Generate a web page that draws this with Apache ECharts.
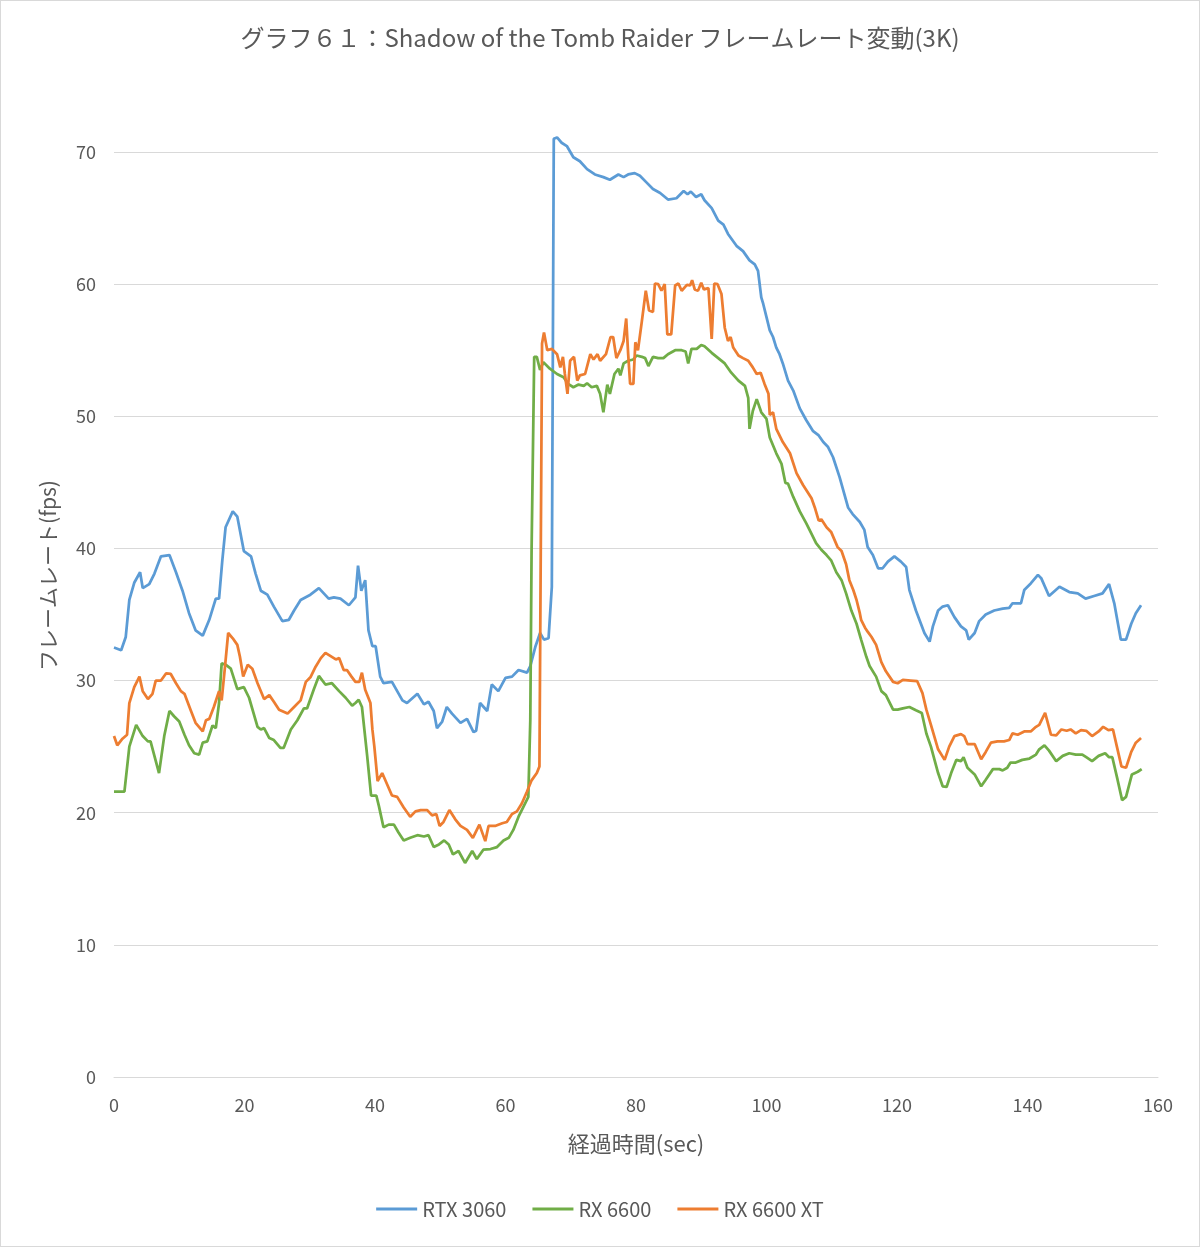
<!DOCTYPE html>
<html>
<head>
<meta charset="utf-8">
<script src="https://cdn.jsdelivr.net/npm/echarts@6/dist/echarts.min.js"></script>
<style>
html,body{margin:0;padding:0;background:#fff;}
#chart{width:1200px;height:1247px;box-sizing:border-box;border:1px solid #d9d9d9;}
</style>
</head>
<body>
<div id="chart"></div>
<script>
const titleText = 'グラフ６１：Shadow of the Tomb Raider フレームレート変動(3K)';
const xAxisName = '経過時間(sec)';
const yAxisName = 'フレームレート(fps)';
const seriesNames = ['RTX 3060', 'RX 6600', 'RX 6600 XT'];
const seriesColors = ['#5B9BD5', '#70AD47', '#ED7D31'];

const rtxTime = [0,1.1,1.8,2.35,3.1,4.0,4.4,5.4,6.2,7.2,8.5,9.5,10.5,11.5,12.5,13.6,14.6,15.6,16.1,16.6,17.1,18.2,18.9,19.9,21.0,21.7,22.5,23.5,24.5,25.8,26.8,27.6,28.6,30.1,31.4,32.9,33.7,34.7,36.0,37.0,37.4,37.9,38.5,39.0,39.6,40.1,40.8,41.3,42.6,44.2,44.9,46.5,47.5,48.2,49.0,49.5,50.3,51.0,51.8,53.1,54.1,55.1,55.5,56.1,57.2,57.9,58.9,60.0,61.0,62.0,63.3,63.8,64.6,65.3,65.9,66.6,67.1,67.4,67.9,68.6,69.4,70.4,71.4,72.5,73.7,75.0,76.0,77.3,78.1,78.8,79.8,80.6,81.6,82.6,83.7,84.9,86.2,87.3,87.9,88.4,89.2,90.0,90.5,91.6,92.6,93.4,94.1,95.4,96.4,97.4,98.2,98.7,99.2,99.5,100.0,100.5,101.0,101.5,102.0,102.5,103.3,104.1,105.1,106.1,107.1,108.0,108.7,109.4,110.2,111.2,112.5,113.2,114.3,115.0,115.5,116.3,117.1,117.8,118.6,119.6,120.6,121.4,121.9,122.9,124.2,125.0,125.5,126.3,127.0,127.8,128.8,129.8,130.6,131.0,131.9,132.6,133.6,134.9,136.2,137.2,137.7,139.0,139.5,140.5,141.6,142.1,143.3,144.9,146.4,147.7,148.9,150.2,151.5,152.5,153.3,154.3,155.1,155.9,156.6,157.4];
const rtxFps = [32.5,32.3,33.3,36.1,37.4,38.2,37.0,37.3,38.1,39.4,39.5,38.2,36.8,35.1,33.8,33.4,34.6,36.2,36.2,39.1,41.6,42.8,42.4,39.8,39.4,38.1,36.8,36.5,35.6,34.5,34.6,35.3,36.1,36.5,37.0,36.2,36.3,36.2,35.7,36.3,38.7,36.8,37.6,33.8,32.6,32.6,30.3,29.8,29.9,28.5,28.3,29.0,28.2,28.4,27.7,26.4,26.9,28.0,27.5,26.8,27.1,26.1,26.2,28.3,27.7,29.7,29.2,30.2,30.3,30.8,30.6,31.1,32.6,33.6,33.1,33.2,37.1,71.0,71.1,70.7,70.45,69.6,69.3,68.7,68.3,68.1,67.9,68.3,68.1,68.3,68.4,68.2,67.7,67.2,66.9,66.4,66.5,67.05,66.8,67.0,66.6,66.8,66.35,65.75,64.8,64.5,63.8,62.9,62.5,61.8,61.5,61.0,59.0,58.5,57.5,56.5,56.0,55.2,54.7,54.0,52.7,51.95,50.6,49.7,48.9,48.55,48.05,47.7,46.9,45.4,43.1,42.6,42.0,41.4,40.1,39.5,38.5,38.5,39.0,39.4,39.0,38.6,36.85,35.3,33.6,32.95,34.1,35.3,35.6,35.7,34.8,34.1,33.8,33.1,33.6,34.5,35.0,35.3,35.45,35.5,35.85,35.85,36.85,37.35,38.0,37.75,36.4,37.1,36.7,36.6,36.2,36.4,36.6,37.3,35.85,33.1,33.1,34.3,35.1,35.7];

const rx6600Time = [0,1.6,2.35,3.4,4.4,5.2,5.6,6.9,7.7,8.5,9.2,10.0,10.8,11.5,12.3,13.05,13.6,14.3,15.1,15.6,16.1,16.5,17.1,17.9,18.9,19.9,20.7,22.0,22.5,23.0,23.8,24.5,25.5,26.0,27.1,28.1,29.1,29.6,30.6,31.4,32.4,33.4,34.5,35.5,36.5,37.0,37.5,38.0,38.8,39.4,40.2,40.6,41.3,42.1,42.9,43.6,44.4,45.4,46.5,47.5,48.2,49.0,49.8,50.6,51.3,51.95,52.8,53.8,54.9,55.6,55.9,56.6,57.7,58.7,59.7,60.5,61.2,62.0,62.8,63.5,63.8,64.0,64.4,64.8,65.3,65.8,66.8,67.9,68.9,69.6,70.4,71.2,72.0,72.5,73.2,74.0,74.5,75.0,75.6,76.0,76.7,77.3,77.6,78.1,78.8,79.6,80.1,80.9,81.4,81.9,82.6,83.4,84.2,84.9,86.0,87.0,87.6,88.0,88.5,89.3,90.0,90.5,91.6,92.6,93.6,94.6,95.7,96.7,97.2,97.4,97.9,98.5,99.2,100.0,100.5,101.5,102.3,102.9,103.3,104.1,105.1,106.1,106.9,107.6,108.4,109.2,109.9,110.7,111.5,112.2,113.0,113.8,114.5,115.3,115.8,116.8,117.6,118.3,119.4,120.1,120.9,121.9,122.9,123.8,124.5,125.2,126.3,127.0,127.6,128.3,129.1,129.8,130.2,130.8,131.9,132.9,133.6,134.7,135.7,136.2,136.9,137.4,138.2,139.2,140.3,141.3,141.8,142.6,143.3,144.4,145.4,146.4,147.4,148.4,149.0,149.9,150.9,151.9,152.5,153.0,153.8,154.5,155.1,156.0,156.9,157.5];
const rx6600Fps = [21.6,21.6,25.0,26.65,25.8,25.4,25.4,23.0,25.8,27.7,27.3,26.9,25.9,25.1,24.5,24.4,25.3,25.4,26.6,26.4,28.3,31.3,31.2,30.9,29.35,29.5,28.7,26.5,26.3,26.4,25.65,25.5,24.9,24.9,26.3,27.0,27.9,27.9,29.3,30.35,29.7,29.8,29.2,28.7,28.1,28.3,28.55,28.0,24.3,21.3,21.3,20.5,18.9,19.1,19.1,18.5,17.9,18.1,18.3,18.2,18.3,17.4,17.6,17.9,17.6,16.85,17.1,16.2,17.1,16.5,16.5,17.2,17.25,17.4,17.9,18.1,18.7,19.7,20.5,21.2,27.0,40.0,54.5,54.5,53.5,54.1,53.6,53.2,52.95,52.45,52.2,52.4,52.3,52.5,52.2,52.3,51.7,50.3,52.4,51.7,53.2,53.6,53.1,54.0,54.2,54.3,54.6,54.5,54.4,53.8,54.5,54.4,54.4,54.7,55.0,55.0,54.9,54.0,55.1,55.1,55.4,55.3,54.8,54.4,54.0,53.3,52.7,52.3,51.4,49.05,50.4,51.3,50.3,49.8,48.4,47.2,46.4,44.95,44.9,43.9,42.8,41.9,41.1,40.4,39.9,39.5,39.1,38.2,37.6,36.6,35.3,34.3,33.1,31.8,31.1,30.3,29.2,28.9,27.8,27.8,27.9,28.0,27.75,27.55,26.0,25.0,23.0,22.0,21.95,23.0,24.0,23.9,24.2,23.4,22.9,22.0,22.5,23.3,23.3,23.2,23.4,23.8,23.8,24.0,24.1,24.4,24.8,25.1,24.7,23.9,24.3,24.5,24.4,24.4,24.2,23.9,24.3,24.5,24.2,24.2,22.5,20.95,21.2,22.9,23.1,23.3];

const rx6600xtTime = [0,0.5,1.3,2.0,2.35,3.1,3.9,4.4,5.2,5.9,6.4,7.2,8.0,8.7,9.5,10.25,10.8,11.8,12.5,13.6,14.1,14.6,15.3,16.1,16.5,17.0,17.5,18.2,18.9,19.3,19.8,20.5,21.2,22.0,23.0,23.8,24.5,25.3,26.6,27.6,28.6,29.4,30.1,30.9,31.7,32.4,33.2,34.0,34.5,35.2,35.7,36.4,37.0,37.6,38.0,38.5,39.3,39.6,39.9,40.4,41.1,41.9,42.6,43.4,44.4,45.4,46.2,47.0,48.0,48.75,49.4,49.9,50.5,51.4,52.3,53.1,54.1,55.0,56.0,56.9,57.4,58.4,59.5,60.2,61.0,61.75,62.5,63.3,64.0,64.8,65.2,65.6,65.9,66.4,67.1,67.9,68.4,68.8,69.1,69.5,69.9,70.5,71.0,71.4,72.2,73.0,73.5,74.1,74.5,75.4,76.1,76.5,77.0,77.6,78.1,78.5,78.8,79.1,79.6,79.9,80.3,80.9,81.5,82.0,82.6,82.9,83.4,83.9,84.4,84.8,85.4,86.0,86.5,87.0,87.8,88.3,88.6,89.0,89.5,90.0,90.4,91.1,91.6,92.0,92.5,93.1,93.6,94.1,94.5,94.9,95.7,96.4,97.2,97.9,98.5,99.1,99.7,100.3,100.5,101.0,101.5,102.5,103.6,104.6,105.6,106.9,107.4,108.0,108.4,109.2,109.9,110.9,111.5,112.2,112.7,113.3,113.8,114.3,114.5,115.1,115.5,116.1,116.8,117.6,118.3,119.4,120.1,120.9,122.1,123.1,123.9,124.5,125.2,126.3,127.3,128.0,128.8,129.8,130.3,130.8,131.9,132.9,133.6,134.4,135.4,136.4,137.2,137.7,138.5,139.5,140.5,141.3,141.8,142.7,143.0,143.6,144.4,145.2,146.0,146.6,147.4,148.2,149.0,149.9,150.9,151.6,152.4,153.1,153.7,154.4,155.1,155.9,156.6,157.4];
const rx6600xtFps = [25.8,25.1,25.6,25.9,28.3,29.5,30.3,29.2,28.6,29.0,30.0,30.0,30.55,30.5,29.8,29.2,29.0,27.7,26.8,26.15,27.0,27.1,28.0,29.2,28.5,31.0,33.6,33.2,32.7,31.8,30.3,31.2,30.9,29.8,28.6,28.9,28.4,27.8,27.5,28.0,28.5,29.9,30.25,31.05,31.7,32.1,31.85,31.6,31.7,30.8,30.8,30.3,29.9,29.9,30.6,29.3,28.3,26.3,25.0,22.4,23.0,22.1,21.3,21.2,20.4,19.7,20.1,20.2,20.2,19.8,19.9,19.0,19.3,20.2,19.5,19.0,18.7,18.1,19.1,17.85,19.0,19.0,19.2,19.3,19.9,20.1,20.7,21.6,22.45,23.0,23.5,55.5,56.35,55.0,55.1,54.7,53.7,54.5,53.2,51.7,54.2,54.5,52.7,53.1,53.2,54.7,54.3,54.7,54.2,54.7,56.0,56.0,54.4,55.0,55.7,57.4,54.7,52.45,52.45,55.6,55.0,57.2,59.5,58.0,57.9,60.05,60.0,59.5,60.0,56.2,56.2,59.9,60.05,59.5,59.95,59.9,60.3,59.6,59.5,60.1,59.6,59.7,55.85,60.05,60.0,59.25,56.7,55.7,56.0,55.2,54.6,54.4,54.2,53.7,53.2,53.3,52.45,51.7,50.1,50.3,49.05,48.05,47.2,45.7,44.8,43.8,43.1,42.1,42.2,41.6,41.25,40.1,39.8,38.8,37.6,36.85,36.1,35.1,34.6,34.0,33.7,33.3,32.7,31.4,30.7,29.9,29.8,30.05,30.0,29.95,29.05,27.8,26.65,24.8,24.0,25.0,25.8,25.95,25.8,25.2,25.2,24.05,24.6,25.3,25.4,25.4,25.5,26.0,25.9,26.15,26.15,26.5,26.65,27.55,27.0,25.9,25.85,26.3,26.2,26.3,26.0,26.25,26.2,25.8,26.15,26.5,26.25,26.3,25.0,23.5,23.4,24.6,25.3,25.65];

const xTicks = {min: 0, max: 160, interval: 20};
const yTicks = {min: 0, max: 70, interval: 10};

function zip(t, v) { return t.map((x, i) => [x, v[i]]); }
const seriesData = [zip(rtxTime, rtxFps), zip(rx6600Time, rx6600Fps), zip(rx6600xtTime, rx6600xtFps)];

const font = '"Noto Sans CJK JP", "Noto Sans", sans-serif';
const chart = echarts.init(document.getElementById('chart'));
chart.setOption({
  backgroundColor: '#ffffff',
  animation: false,
  textStyle: {fontFamily: font},
  title: {
    text: titleText,
    left: 'center',
    top: 20,
    textStyle: {fontSize: 24, fontWeight: 'normal', color: '#595959', fontFamily: font}
  },
  legend: {
    bottom: 22,
    left: 'center',
    icon: 'rect',
    itemWidth: 41,
    itemHeight: 3,
    itemGap: 26,
    textStyle: {fontSize: 20, color: '#595959', fontFamily: font, padding: [0, 0, 0, 0]},
    data: seriesNames
  },
  grid: {left: 113, right: 41, top: 151, bottom: 169, containLabel: false},
  xAxis: {
    type: 'value',
    min: xTicks.min, max: xTicks.max, interval: xTicks.interval,
    name: xAxisName,
    nameLocation: 'middle',
    nameGap: 56,
    nameTextStyle: {fontSize: 22, color: '#595959', fontFamily: font},
    axisLine: {show: true, lineStyle: {color: '#d9d9d9', width: 1}},
    axisTick: {show: false},
    axisLabel: {fontSize: 18, color: '#595959', margin: 19, fontFamily: font},
    splitLine: {show: false}
  },
  yAxis: {
    type: 'value',
    min: yTicks.min, max: yTicks.max, interval: yTicks.interval,
    name: yAxisName,
    nameLocation: 'middle',
    nameGap: 55,
    nameRotate: 90,
    nameTextStyle: {fontSize: 21, color: '#595959', fontFamily: font, padding: [0, 0, 0, 78]},
    axisLine: {show: false},
    axisTick: {show: false},
    axisLabel: {fontSize: 18, color: '#595959', margin: 18, fontFamily: font},
    splitLine: {show: true, lineStyle: {color: '#d9d9d9', width: 1}}
  },
  series: seriesNames.map((n, i) => ({
    name: n,
    type: 'line',
    data: seriesData[i],
    showSymbol: false,
    symbol: 'none',
    smooth: false,
    clip: false,
    lineStyle: {color: seriesColors[i], width: 2.75},
    itemStyle: {color: seriesColors[i]}
  }))
});
</script>
</body>
</html>
